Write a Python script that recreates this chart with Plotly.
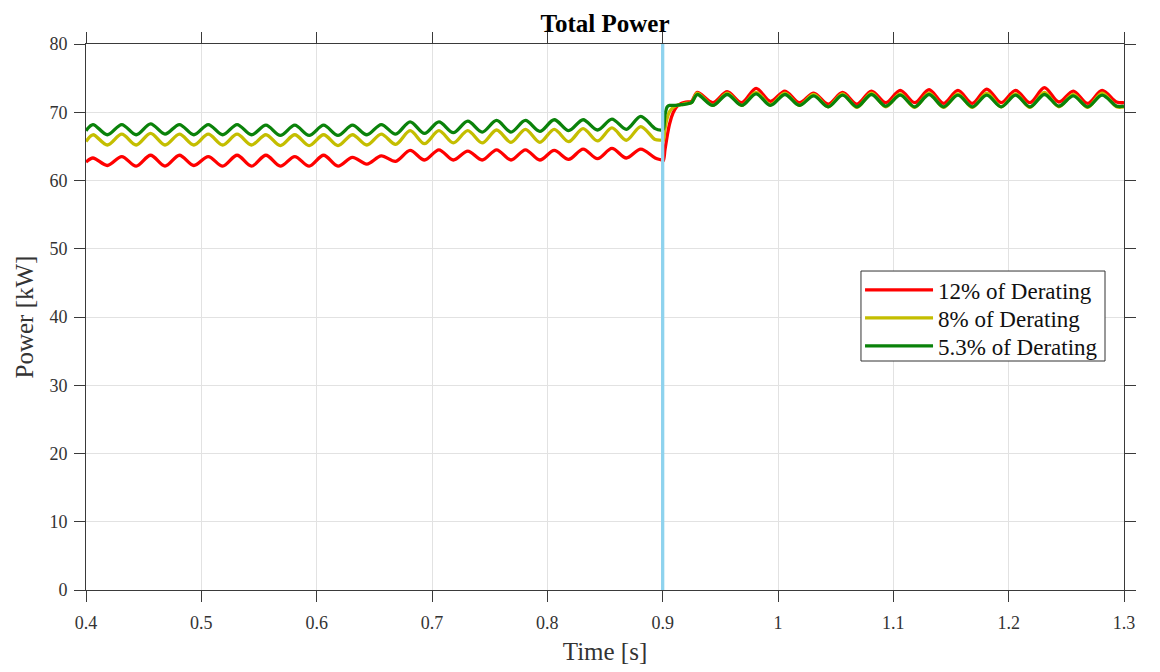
import plotly.graph_objects as go

# ---------------- data ----------------
time_s = [
    0.400, 0.406, 0.4185, 0.431, 0.4435, 0.456, 0.4685, 0.481, 0.4935, 0.506,
    0.5185, 0.531, 0.5435, 0.556, 0.5685, 0.581, 0.5935, 0.606, 0.6185, 0.631,
    0.6435, 0.656, 0.6685, 0.681, 0.6935, 0.706, 0.7185, 0.731, 0.7435, 0.756,
    0.7685, 0.781, 0.7935, 0.806, 0.8185, 0.831, 0.8435, 0.856, 0.8685, 0.881,
    0.8935, 0.899,
    0.9005, 0.902, 0.904, 0.906, 0.909, 0.912, 0.916, 0.920, 0.925,
    0.930, 0.9435, 0.956, 0.9685, 0.981, 0.9935, 1.006, 1.0185, 1.031, 1.0435,
    1.056, 1.0685, 1.081, 1.0935, 1.106, 1.1185, 1.131, 1.1435, 1.156, 1.1685,
    1.181, 1.1935, 1.206, 1.2185, 1.231, 1.2435, 1.256, 1.2685, 1.281, 1.2935,
    1.300,
]

power_12 = [
    62.7, 63.3, 62.2, 63.5, 62.1, 63.7, 62.1, 63.7, 62.2, 63.5,
    62.1, 63.7, 62.1, 63.7, 62.1, 63.5, 62.1, 63.7, 62.1, 63.4,
    62.4, 63.6, 62.8, 64.4, 63.0, 64.5, 63.0, 64.3, 63.0, 64.5,
    63.0, 64.5, 63.0, 64.4, 63.1, 64.6, 63.2, 64.7, 63.3, 64.6,
    63.3, 63.0,
    62.9, 64.5, 66.6, 68.3, 69.9, 70.8, 71.3, 71.5, 71.6,
    72.9, 71.4, 73.0, 71.4, 73.5, 71.6, 73.1, 71.4, 72.8, 71.2,
    72.9, 71.2, 73.1, 71.4, 73.2, 71.4, 73.3, 71.3, 73.2, 71.3,
    73.4, 71.4, 73.2, 71.4, 73.6, 71.5, 73.1, 71.3, 73.2, 71.5,
    71.4,
]

power_8 = [
    65.7, 66.7, 65.2, 66.8, 65.2, 66.9, 65.2, 66.8, 65.2, 66.8,
    65.2, 66.8, 65.2, 66.7, 65.1, 66.7, 65.1, 66.7, 65.1, 66.7,
    65.2, 66.8, 65.3, 67.3, 65.4, 67.3, 65.5, 67.3, 65.5, 67.4,
    65.6, 67.5, 65.6, 67.5, 65.7, 67.6, 65.8, 67.7, 65.9, 67.9,
    66.0, 65.9,
    65.8, 67.6, 69.2, 70.1, 70.7, 71.0, 71.1, 71.3, 71.4,
    72.8, 71.0, 72.8, 71.0, 72.9, 71.1, 72.8, 71.0, 72.6, 70.8,
    72.7, 70.7, 72.8, 70.8, 72.7, 70.7, 72.8, 70.7, 72.7, 70.7,
    72.8, 70.8, 72.7, 70.7, 72.9, 70.8, 72.6, 70.7, 72.8, 70.8,
    70.8,
]

power_5_3 = [
    67.3, 68.2, 66.7, 68.2, 66.7, 68.3, 66.8, 68.2, 66.7, 68.2,
    66.7, 68.2, 66.7, 68.1, 66.6, 68.1, 66.6, 68.1, 66.6, 68.1,
    66.7, 68.2, 66.8, 68.6, 66.9, 68.6, 67.0, 68.7, 67.1, 68.8,
    67.1, 68.8, 67.2, 68.9, 67.3, 68.9, 67.4, 69.0, 67.5, 69.4,
    67.6, 67.4,
    67.5, 69.6, 70.8, 71.0, 71.0, 71.0, 71.1, 71.2, 71.4,
    72.6, 71.0, 72.6, 71.0, 72.7, 71.0, 72.6, 71.0, 72.4, 70.8,
    72.5, 70.8, 72.6, 70.9, 72.5, 70.8, 72.6, 70.8, 72.5, 70.8,
    72.5, 70.8, 72.5, 70.8, 72.6, 70.9, 72.4, 70.8, 72.5, 70.9,
    70.9,
]

series_names = ["12% of Derating", "8% of Derating", "5.3% of Derating"]
series_values = [power_12, power_8, power_5_3]
series_colors = ["#FF0000", "#C4BE00", "#0A820A"]

event_time = [0.9, 0.9]
event_range = [0, 80]

x_ticks = [0.4, 0.5, 0.6, 0.7, 0.8, 0.9, 1.0, 1.1, 1.2, 1.3]
y_ticks = [0, 10, 20, 30, 40, 50, 60, 70, 80]

# ---------------- figure ----------------
SERIF = "Liberation Serif, Times New Roman, serif"
legend_ids = ["legend", "legend2", "legend3"]
legend_y = [0.5495, 0.4982, 0.4469]

fig = go.Figure()

for name, vals, col, lid in zip(series_names, series_values, series_colors, legend_ids):
    fig.add_trace(go.Scatter(
        x=time_s, y=vals, name=name, mode="lines", legend=lid,
        line=dict(color=col, width=3.3, shape="spline", smoothing=0.9),
    ))

fig.add_trace(go.Scatter(
    x=event_time, y=event_range, mode="lines", showlegend=False,
    line=dict(color="#8ED3EE", width=3.3), hoverinfo="skip",
))

axis_common = dict(
    showline=True, linecolor="#3a3a3a", linewidth=1, mirror="ticks",
    ticks="outside", ticklen=11, tickwidth=1, tickcolor="#3a3a3a",
    showgrid=True, gridcolor="#e2e2e2", gridwidth=1, zeroline=False,
    tickfont=dict(family=SERIF, size=18, color="#333333"),
)

fig.update_xaxes(
    range=[0.4, 1.3], tickvals=x_ticks, ticktext=[("%g" % v) for v in x_ticks],
    ticklabelstandoff=5,
    title=dict(text="Time [s]", font=dict(family=SERIF, size=25, color="#333333"), standoff=10),
    **axis_common,
)
fig.update_yaxes(
    range=[0, 80], tickvals=y_ticks, ticklabelstandoff=3,
    title=dict(text="Power [kW]", font=dict(family=SERIF, size=25, color="#333333"), standoff=8),
    **axis_common,
)

legend_common = dict(
    x=0.7457, xanchor="left", yanchor="middle",
    bgcolor="rgba(0,0,0,0)", borderwidth=0,
    font=dict(family=SERIF, size=23, color="#111111"),
    itemwidth=68,
)

fig.update_layout(
    width=1160, height=672,
    margin=dict(l=78, r=44, t=36, b=90),
    plot_bgcolor="white", paper_bgcolor="white",
    title=dict(text="<b>Total Power</b>", x=0.5147, xanchor="center",
               y=0.978, yanchor="middle", yref="container",
               font=dict(family=SERIF, size=25, color="#000000")),
    legend=dict(y=legend_y[0], **legend_common),
    legend2=dict(y=legend_y[1], **legend_common),
    legend3=dict(y=legend_y[2], **legend_common),
    shapes=[dict(type="rect", xref="paper", yref="paper",
                 x0=0.7466, x1=0.9817, y0=0.4194, y1=0.5842,
                 line=dict(color="#333333", width=1), fillcolor="white",
                 layer="above")],
    showlegend=True,
)

fig.write_html("out.html")
